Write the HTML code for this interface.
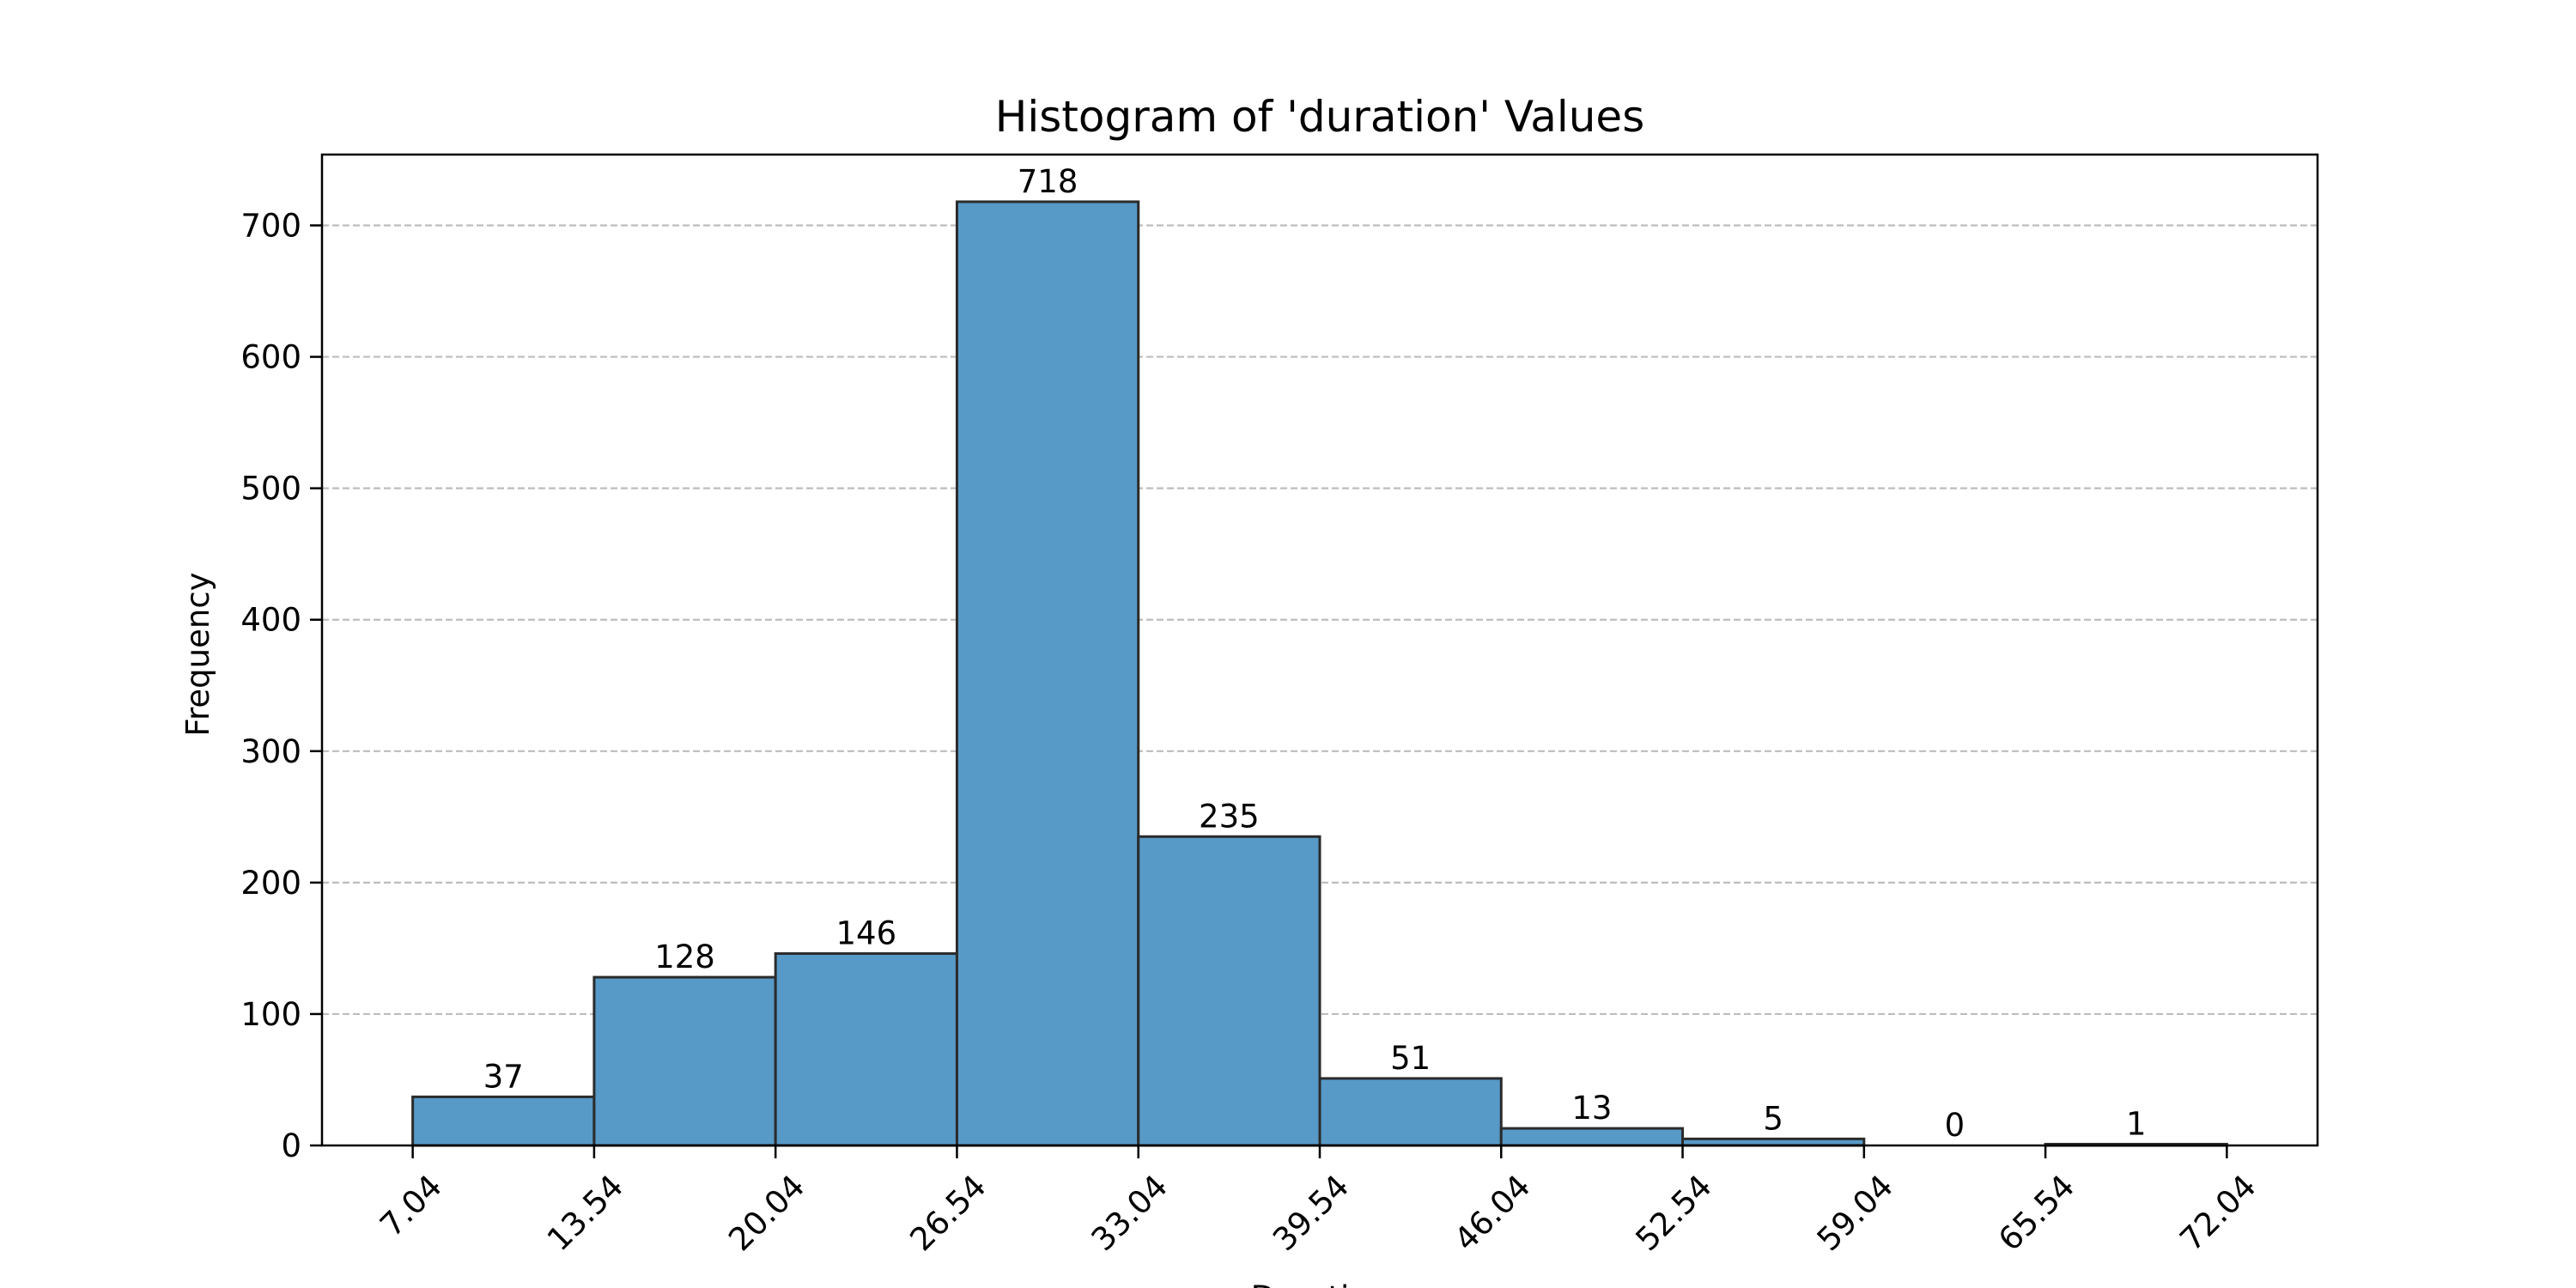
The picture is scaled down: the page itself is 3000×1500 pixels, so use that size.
<!DOCTYPE html>
<html><head><meta charset="utf-8"><style>
html,body{margin:0;padding:0;background:#fff;}
svg{display:block;font-family:"DejaVu Sans","Liberation Sans",sans-serif;}
</style></head><body>
<svg id="chart" width="3000" height="1500" viewBox="0 0 3000 1500" xmlns="http://www.w3.org/2000/svg">
<rect width="3000" height="1500" fill="#fff"/>
<g id="grid"></g><g id="bars"></g><g id="labels"></g><g id="axes"></g>
</svg>
<script>
const binEdges = [7.04, 13.54, 20.04, 26.54, 33.04, 39.54, 46.04, 52.54, 59.04, 65.54, 72.04];
const counts = [37, 128, 146, 718, 235, 51, 13, 5, 0, 1];
const yTicks = [0, 100, 200, 300, 400, 500, 600, 700];
const xTickLabels = ["7.04","13.54","20.04","26.54","33.04","39.54","46.04","52.54","59.04","65.54","72.04"];

const NS = "http://www.w3.org/2000/svg";
const L = 375, R = 2699, T = 180, B = 1334;
const xmin = 7.04 - 3.25, xmax = 72.04 + 3.25;
const ymax = Math.max(...counts) * 1.05;
const xs = v => L + (v - xmin) / (xmax - xmin) * (R - L);
const ys = v => B - v / ymax * (B - T);
function mk(tag, attrs, parent, text) {
  const e = document.createElementNS(NS, tag);
  for (const k in attrs) e.setAttribute(k, attrs[k]);
  if (text !== undefined) e.textContent = text;
  document.getElementById(parent).appendChild(e);
  return e;
}
yTicks.forEach(t => {
  if (t === 0) return;
  const g = mk('line', {x1: L, x2: R, y1: ys(t), y2: ys(t), stroke: '#bdbdbd', 'stroke-width': 2.2, 'stroke-dasharray': '8,4'}, 'grid');
  
  
});
counts.forEach((c, i) => {
  const x0 = xs(binEdges[i]), x1 = xs(binEdges[i + 1]);
  const r = mk('rect', {x: x0, y: ys(c), width: x1 - x0, height: B - ys(c), fill: '#5799c7', stroke: '#2b2b2b', 'stroke-width': 3}, 'bars');
  
  
  const t = mk('text', {x: (x0 + x1) / 2, y: ys(c) - 11, 'text-anchor': 'middle', 'font-size': 37, fill: '#000'}, 'labels', String(c));
  
  
});
const frame = mk('rect', {x: L, y: T, width: R - L, height: B - T, fill: 'none', stroke: '#000', 'stroke-width': 2.5}, 'axes');


yTicks.forEach(t => {
  const y = ys(t);
  mk('line', {x1: L - 14, x2: L, y1: y, y2: y, stroke: '#000', 'stroke-width': 2.5}, 'axes');
  const lb = mk('text', {x: L - 24, y: y + 13, 'text-anchor': 'end', 'font-size': 37}, 'axes', String(t));
  
  
});
binEdges.forEach((v, i) => {
  const x = xs(v);
  mk('line', {x1: x, x2: x, y1: B, y2: B + 15, stroke: '#000', 'stroke-width': 2.5}, 'axes');
  const ax = x + 36, ay = B + 50;
  const lb = mk('text', {x: ax, y: ay, 'text-anchor': 'end', 'font-size': 37, transform: `rotate(-45 ${ax} ${ay})`}, 'axes', xTickLabels[i]);
  
  
});
const title = mk('text', {x: (L + R) / 2, y: 153, 'text-anchor': 'middle', 'font-size': 50}, 'axes', "Histogram of 'duration' Values");


const yl = mk('text', {x: 243, y: (T + B) / 2 + 5, 'text-anchor': 'middle', 'font-size': 37, transform: `rotate(-90 243 ${(T + B) / 2 + 5})`}, 'axes', 'Frequency');


const xl = mk('text', {x: (L + R) / 2, y: 1524, 'text-anchor': 'middle', 'font-size': 37}, 'axes', 'Duration');


</script>
</body></html>
